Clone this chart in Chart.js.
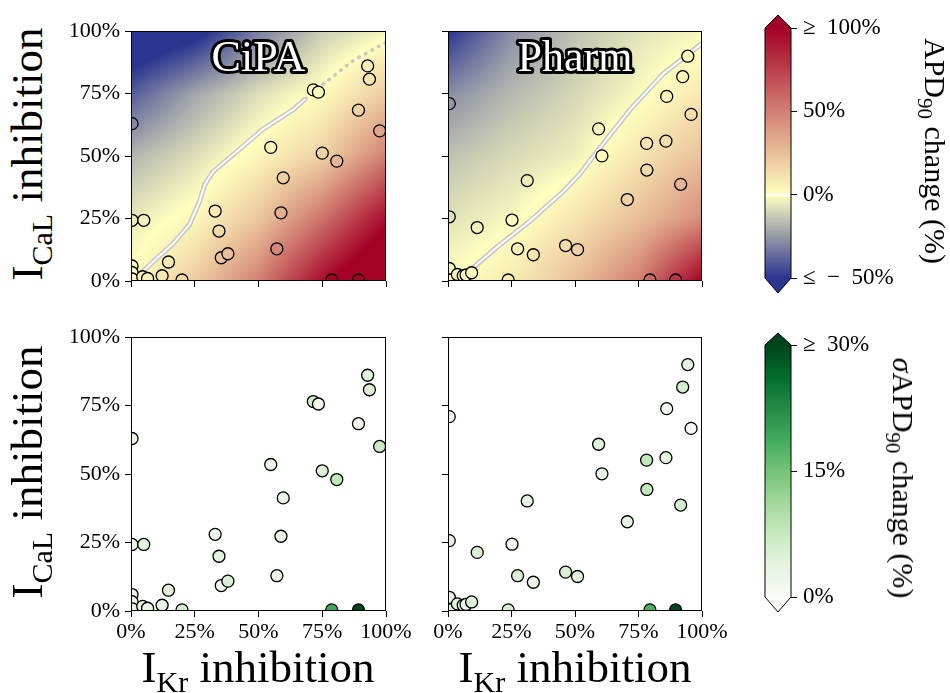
<!DOCTYPE html>
<html>
<head>
<meta charset="utf-8">
<script src="https://cdn.jsdelivr.net/npm/chart.js@4.4.1/dist/chart.umd.min.js"></script>
<style>
  body { margin: 0; background: #fff; }
  #fig { position: relative; width: 950px; height: 693px; overflow: hidden;
         font-family: "Liberation Serif", "Times New Roman", serif; color: #000; }
  #fig canvas { position: absolute; }
  .lab { position: absolute; left: 0; top: 0; white-space: nowrap; line-height: 1; transform-origin: 0 0; }
  .big { font-size: 45px; }
  .big .s { font-size: 30px; vertical-align: -10px; }
  .cb { font-size: 30px; }
  .cb .s { font-size: 21px; vertical-align: -7px; }
</style>
</head>
<body>
<div id="fig">
  <canvas id="cipaApd" width="355" height="308" style="left:59px;top:13px"></canvas>
  <canvas id="pharmApd" width="354" height="308" style="left:376px;top:13px"></canvas>
  <canvas id="cipaSd" width="355" height="332" style="left:59px;top:319px"></canvas>
  <canvas id="pharmSd" width="354" height="332" style="left:376px;top:319px"></canvas>
  <canvas id="apdBar" width="200" height="305" style="left:750px;top:0px"></canvas>
  <canvas id="sdBar" width="200" height="312" style="left:750px;top:315px"></canvas>

  <div class="lab big" style="transform:translate(5px,154px) rotate(-90deg) translateX(-50%)">I<span class="s">CaL</span> inhibition</div>
  <div class="lab big" style="transform:translate(5px,472px) rotate(-90deg) translateX(-50%)">I<span class="s">CaL</span> inhibition</div>
  <div class="lab big" style="transform:translate(258px,645px) translateX(-50%)">I<span class="s">Kr</span> inhibition</div>
  <div class="lab big" style="transform:translate(575px,645px) translateX(-50%)">I<span class="s">Kr</span> inhibition</div>
  <div class="lab cb" style="transform:translate(950px,151px) rotate(90deg) translateX(-50%)">APD<span class="s">90</span> change (%)</div>
  <div class="lab cb" style="transform:translate(918px,478px) rotate(90deg) translateX(-50%)"><i>σ</i>APD<span class="s">90</span> change (%)</div>
</div>

<script>
// axis levels (both inhibitions, in %)
const axisSteps = [0, 25, 50, 75, 100];
const tickLabels = ["0%", "25%", "50%", "75%", "100%"];

// CiPA drugs: IKr inhibition, ICaL inhibition, sd of APD90 change
const cipaKr = [0.4, 0.4, 5, 0.4, 0.4, 0.5, 4.6, 6.5, 12.2, 14.7, 20, 33, 34.5, 35.4, 38,
    54.8, 59.7, 58.8, 57.2, 71.5, 73.5, 75, 80.7, 78.7, 89.2, 89.2, 92.8, 93.5, 97.5];
const cipaCaL = [63, 24.3, 24.3, 6, 3.4, 0.8, 1.7, 1, 2.1, 7.6, 0.4, 28, 20, 9.3, 10.9,
    53.5, 41.3, 27.3, 12.9, 76.5, 75.6, 51.2, 48, 0.4, 68.4, 0.4, 86.1, 80.8, 60.1];
const cipaSigma = [3, 3, 4, 3, 3, 3, 3, 3, 3, 4, 6, 1.5, 4, 1, 5,
    3, 3, 3, 3, 6, 1, 5, 8, 19, 1, 30, 4, 5, 7];

// Pharm drugs
const pharmKr = [0.5, 0.5, 0.5, 1, 3.7, 6, 7.1, 9.3, 11.5, 23.7, 25.2, 27.4, 31.2, 33.6, 46.3,
    51, 59.3, 60.6, 70.6, 78.2, 78.3, 79.5, 85.8, 86.1, 89.6, 91.6, 92.4, 94.4, 95.7];
const pharmCaL = [71, 25.7, 5, 0.4, 2.6, 2.1, 2.4, 3.3, 21.4, 0.4, 24.4, 12.9, 40.2, 10.5, 14.2,
    12.6, 60.9, 50.1, 32.6, 55.1, 44.4, 0.4, 56, 73.9, 0.4, 38.7, 81.8, 90, 66.7];
const pharmSigma = [2, 4, 3, 3, 4, 3, 3, 4, 5, 6, 1, 5, 4, 2, 5,
    4, 4, 3, 3, 8, 8, 18, 4, 1.5, 30, 6, 6, 4, 1];

const cipaApdGrid = [
    [0, 20, 50, 95, 130],
    [-5, 3, 22, 55, 95],
    [-18, -8, 4, 18, 50],
    [-40, -22, -8, 2, 20],
    [-65, -55, -32, -12, -2.5],
];
const pharmApdGrid = [
    [0, 8, 25, 50, 100],
    [-7, -2, 10, 25, 45],
    [-15, -9, -4, 10, 25],
    [-28, -17, -10, -1.5, 9],
    [-50, -28, -15, -7, -2],
];

// zero-change contour
const cipaZeroKr = [2, 5.2, 10, 16.4, 23, 26.9, 28.9, 32.1, 41.3, 51.8, 63.6, 68.5, 74.1, 87.2, 100];
const cipaZeroCaL = [1.5, 4.3, 9, 14.8, 22.7, 31.9, 38.5, 43.7, 51.6, 60.8, 68.6, 73, 77.8, 88.3, 95.5];
const pharmZeroKr = [5, 7.3, 19.2, 32.3, 45.4, 52, 58.5, 65, 71.7, 84.8, 100];
const pharmZeroCaL = [2, 3, 13.5, 24, 35.8, 43, 51.6, 60, 68.6, 83, 95.1];

// colour bars
const apdTicks = [-50, 0, 50, 100];
const apdTickLabels = ["≤\u2002−\u200250%", "0%", "50%", "≥\u2002100%"];
const sigmaTicks = [0, 15, 30];
const sigmaTickLabels = ["0%", "15%", "≥\u200230%"];

const FONT = '"Liberation Serif", "Times New Roman", serif';
const blueEnd = [43, 52, 145], midTone = [255, 255, 191], redEnd = [165, 0, 38];
const greens = [[247, 252, 245], [229, 245, 224], [199, 233, 192], [161, 217, 155], [116, 196, 118],
    [65, 171, 93], [35, 139, 69], [0, 109, 44], [0, 68, 27]];

const clamp = (v, a, b) => Math.max(a, Math.min(b, v));
const mix = (a, b, t) => a.map((c, i) => c + (b[i] - c) * t);
const rgb = (c) => `rgb(${c.map(Math.round).join(",")})`;

function apdRgb(v) {
    v = clamp(v, -50, 100);
    return v < 0 ? mix(blueEnd, midTone, (v + 50) / 50) : mix(midTone, redEnd, v / 100);
}

function sigmaRgb(v) {
    const t = clamp(v / 30, 0, 1) * (greens.length - 1);
    const i = Math.min(Math.floor(t), greens.length - 2);
    return mix(greens[i], greens[i + 1], t - i);
}

// bilinear read of the grid at (IKr, ICaL)
function fieldAt(grid, kr, cal) {
    const step = axisSteps[1] - axisSteps[0];
    const n = axisSteps.length - 1;
    const fx = clamp(kr, 0, 100) / step, fy = clamp(cal, 0, 100) / step;
    const i = Math.min(Math.floor(fx), n - 1), j = Math.min(Math.floor(fy), n - 1);
    const tx = fx - i, ty = fy - j;
    return grid[j][i] * (1 - tx) * (1 - ty) + grid[j][i + 1] * tx * (1 - ty) +
        grid[j + 1][i] * (1 - tx) * ty + grid[j + 1][i + 1] * tx * ty;
}

function heatmapPlugin(grid) {
    return {
        id: "heatmap",
        beforeDatasetsDraw(chart) {
            const { left, top, right, bottom } = chart.chartArea;
            const w = Math.round(right - left), h = Math.round(bottom - top);
            const off = document.createElement("canvas");
            off.width = w; off.height = h;
            const octx = off.getContext("2d");
            const img = octx.createImageData(w, h);
            const xs = chart.scales.x, ys = chart.scales.y;
            for (let j = 0; j < h; j++) {
                const cal = ys.getValueForPixel(top + j + 0.5);
                for (let i = 0; i < w; i++) {
                    const c = apdRgb(fieldAt(grid, xs.getValueForPixel(left + i + 0.5), cal));
                    const k = (j * w + i) * 4;
                    img.data[k] = c[0]; img.data[k + 1] = c[1]; img.data[k + 2] = c[2]; img.data[k + 3] = 255;
                }
            }
            octx.putImageData(img, 0, 0);
            chart.ctx.drawImage(off, left, top);
        },
    };
}

function framePlugin(title) {
    return {
        id: "frame",
        afterDatasetsDraw(chart) {
            const { ctx, chartArea: a } = chart;
            ctx.save();
            ctx.strokeStyle = "#000";
            ctx.lineWidth = 1;
            ctx.strokeRect(Math.round(a.left) + 0.5, Math.round(a.top) + 0.5,
                Math.round(a.right - a.left) - 1, Math.round(a.bottom - a.top) - 1);
            if (title) {
                ctx.font = `44px ${FONT}`;
                ctx.textAlign = "center";
                ctx.textBaseline = "alphabetic";
                ctx.lineJoin = "round";
                ctx.lineWidth = 6;
                ctx.strokeText(title, (a.left + a.right) / 2, a.top + 40);
                ctx.fillStyle = "#fff";
                ctx.fillText(title, (a.left + a.right) / 2, a.top + 40);
            }
            ctx.restore();
        },
    };
}

function axis(showLabels, isX) {
    return {
        type: "linear",
        min: 0,
        max: 100,
        afterBuildTicks: (s) => { s.ticks = axisSteps.map((v) => ({ value: v })); },
        afterFit: (s) => { if (isX) s.height = 40; else s.width = 72; },
        ticks: {
            autoSkip: false,
            maxRotation: 0,
            padding: isX ? 2 : 5,
            color: "#000",
            font: { family: FONT, size: 22 },
            callback: (v, i) => (showLabels ? tickLabels[i] : ""),
        },
        grid: { drawOnChartArea: false, tickLength: 6, color: "#000" },
        border: { display: false },
    };
}

function makePanel(id, cfg) {
    const points = cfg.kr.map((x, i) => ({ x: x, y: cfg.cal[i] }));
    const colors = cfg.kr.map((x, i) =>
        rgb(cfg.grid ? apdRgb(fieldAt(cfg.grid, x, cfg.cal[i])) : sigmaRgb(cfg.sigma[i])));
    const datasets = [{
        data: points,
        backgroundColor: colors,
        borderColor: "#000",
        borderWidth: 1.3,
        pointRadius: 6,
        clip: 0,
        order: 0,
    }];
    const plugins = [framePlugin(cfg.title)];
    if (cfg.grid) {
        plugins.unshift(heatmapPlugin(cfg.grid));
        const line = cfg.zeroKr.map((x, i) => ({ x: x, y: cfg.zeroCaL[i] }));
        const dotted = (c) => cfg.dotFrom != null && c.p0.parsed.x >= cfg.dotFrom;
        datasets.push({
            data: line, showLine: true, pointRadius: 0, borderColor: "#c6c6c6", borderWidth: 5,
            clip: 0, order: 2,
            segment: {
                borderDash: (c) => (dotted(c) ? [0.5, 7] : undefined),
                borderWidth: (c) => (dotted(c) ? 3.5 : undefined),
                borderCapStyle: (c) => (dotted(c) ? "round" : undefined),
            },
        });
        datasets.push({
            data: line, showLine: true, pointRadius: 0, borderColor: "#ffffff", borderWidth: 2,
            clip: 0, order: 1,
            segment: { borderColor: (c) => (dotted(c) ? "rgba(0,0,0,0)" : undefined) },
        });
    }
    new Chart(document.getElementById(id), {
        type: "scatter",
        data: { datasets: datasets },
        options: {
            responsive: false,
            animation: false,
            events: [],
            layout: { padding: { top: 14, right: 28, left: 0, bottom: 0 } },
            scales: { x: axis(cfg.showX, true), y: axis(cfg.showY, false) },
            plugins: { legend: { display: false }, tooltip: { enabled: false } },
        },
        plugins: plugins,
    });
}

function makeColorbar(id, cfg) {
    const barPlugin = {
        id: "bar",
        afterDatasetsDraw(chart) {
            const { ctx, chartArea: a } = chart;
            const ys = chart.scales.y;
            const mid = (a.left + a.right) / 2;
            ctx.save();
            const grad = ctx.createLinearGradient(0, a.top, 0, a.bottom);
            for (let k = 0; k <= 60; k++) {
                const v = cfg.max - (cfg.max - cfg.min) * k / 60;
                grad.addColorStop(k / 60, rgb(cfg.color(v)));
            }
            ctx.fillStyle = grad;
            ctx.fillRect(a.left, a.top, a.right - a.left, a.bottom - a.top);
            ctx.fillStyle = rgb(cfg.color(cfg.max));
            ctx.beginPath();
            ctx.moveTo(a.left, a.top); ctx.lineTo(mid, a.top - cfg.extTop); ctx.lineTo(a.right, a.top);
            ctx.closePath(); ctx.fill();
            ctx.fillStyle = rgb(cfg.color(cfg.min));
            ctx.beginPath();
            ctx.moveTo(a.left, a.bottom); ctx.lineTo(mid, a.bottom + cfg.extBottom); ctx.lineTo(a.right, a.bottom);
            ctx.closePath(); ctx.fill();
            if (cfg.zeroLine) {
                const y0 = ys.getPixelForValue(0);
                ctx.strokeStyle = "#fff";
                ctx.lineWidth = 2;
                ctx.beginPath(); ctx.moveTo(a.left, y0); ctx.lineTo(a.right, y0); ctx.stroke();
            }
            ctx.strokeStyle = "#000";
            ctx.lineWidth = 1;
            ctx.beginPath();
            ctx.moveTo(a.left, a.top); ctx.lineTo(mid, a.top - cfg.extTop); ctx.lineTo(a.right, a.top);
            ctx.lineTo(a.right, a.bottom); ctx.lineTo(mid, a.bottom + cfg.extBottom); ctx.lineTo(a.left, a.bottom);
            ctx.closePath(); ctx.stroke();
            ctx.restore();
        },
    };
    new Chart(document.getElementById(id), {
        type: "scatter",
        data: { datasets: [] },
        options: {
            responsive: false,
            animation: false,
            events: [],
            layout: { padding: cfg.padding },
            scales: {
                x: { display: false, min: 0, max: 1 },
                y: {
                    position: "right",
                    min: cfg.min,
                    max: cfg.max,
                    afterBuildTicks: (s) => { s.ticks = cfg.ticks.map((v) => ({ value: v })); },
                    afterFit: (s) => { s.width = 159; },
                    ticks: {
                        autoSkip: false,
                        padding: 6,
                        color: "#000",
                        font: { family: FONT, size: 23 },
                        callback: (v, i) => cfg.labels[i],
                    },
                    grid: { drawOnChartArea: false, tickLength: 6, color: "#000" },
                    border: { display: false },
                },
            },
            plugins: { legend: { display: false }, tooltip: { enabled: false } },
        },
        plugins: [barPlugin],
    });
}

makePanel("cipaApd", { kr: cipaKr, cal: cipaCaL, grid: cipaApdGrid, zeroKr: cipaZeroKr,
    zeroCaL: cipaZeroCaL, dotFrom: 68, title: "CiPA", showX: false, showY: true });
makePanel("pharmApd", { kr: pharmKr, cal: pharmCaL, grid: pharmApdGrid, zeroKr: pharmZeroKr,
    zeroCaL: pharmZeroCaL, title: "Pharm", showX: false, showY: false });
makePanel("cipaSd", { kr: cipaKr, cal: cipaCaL, sigma: cipaSigma, showX: true, showY: true });
makePanel("pharmSd", { kr: pharmKr, cal: pharmCaL, sigma: pharmSigma, showX: true, showY: false });

makeColorbar("apdBar", { min: -50, max: 100, ticks: apdTicks, labels: apdTickLabels, color: apdRgb,
    zeroLine: true, extTop: 13, extBottom: 15, padding: { left: 15, top: 28, bottom: 27, right: 0 } });
makeColorbar("sdBar", { min: 0, max: 30, ticks: sigmaTicks, labels: sigmaTickLabels, color: sigmaRgb,
    zeroLine: false, extTop: 12, extBottom: 15, padding: { left: 15, top: 30, bottom: 30, right: 0 } });
</script>
</body>
</html>
